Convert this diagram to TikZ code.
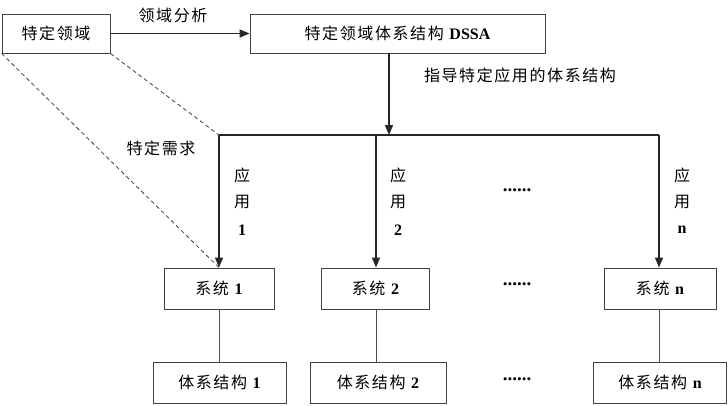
\documentclass[tikz,border=0pt]{standalone}
\usepackage{fontspec}
\setmainfont{Liberation Serif}
\newfontfamily\cjk[LetterSpace=10]{Noto Sans CJK SC}
\usetikzlibrary{arrows.meta}
\begin{document}
\begin{tikzpicture}[x=1pt,y=-1pt,
  box/.style={draw=black!75,line width=0.9pt,fill=white,inner sep=0pt,minimum height=40pt,font=\fontsize{16}{18}\selectfont},
  arr/.style={draw=black!85,line width=1.4pt,-{Triangle[length=10pt,width=8pt]}},
  plain/.style={draw=black!70,line width=0.9pt},
  dashline/.style={draw=black!75,line width=0.8pt,dash pattern=on 4pt off 3pt},
  lab/.style={inner sep=0pt,font=\fontsize{16}{18}\selectfont},
  dots/.style={inner sep=0pt,font=\fontsize{19}{20}\selectfont\bfseries}]
\useasboundingbox (0,0) rectangle (728,405);
% top boxes
\node[box,minimum width=108pt,minimum height=39pt] (dom) at (56,33.5) {\cjk 特定领域};
\node[box,minimum width=295pt,minimum height=39pt] (dssa) at (397.5,33.5) {{\cjk 特定领域体系结构} \textbf{DSSA}};
% system boxes
\node[box,minimum width=110pt,minimum height=41pt] (s1) at (219,288.5) {{\cjk 系统} \textbf{1}};
\node[box,minimum width=108pt,minimum height=41pt] (s2) at (375.5,288.5) {{\cjk 系统} \textbf{2}};
\node[box,minimum width=112pt,minimum height=41pt] (sn) at (660,288.5) {{\cjk 系统} \textbf{n}};
% architecture boxes
\node[box,minimum width=133pt,minimum height=41pt] (a1) at (219.5,382.5) {{\cjk 体系结构} \textbf{1}};
\node[box,minimum width=136pt,minimum height=41pt] (a2) at (378,382.5) {{\cjk 体系结构} \textbf{2}};
\node[box,minimum width=133pt,minimum height=41pt] (an) at (660,382.5) {{\cjk 体系结构} \textbf{n}};
% junction coordinates
\coordinate (L) at (219,135);
\coordinate (M) at (376,135);
\coordinate (J) at (389,135);
\coordinate (R) at (659,135);
% connectors
\draw[arr] (dom.east) -- (dssa.west);
\draw[arr] (J |- dssa.south) -- (J);
\draw[draw=black!85,line width=1.4pt] (L) -- (R);
\draw[arr] (L) -- (L |- s1.north);
\draw[arr] (M) -- (M |- s2.north);
\draw[arr] (R) -- (R |- sn.north);
\draw[plain] (s1.south) -- (s1.south |- a1.north);
\draw[plain] (M |- s2.south) -- (M |- a2.north);
\draw[plain] (R |- sn.south) -- (R |- an.north);
\draw[dashline] (dom.south west) -- (L |- s1.north);
\draw[dashline] (dom.south east) -- (L);
% labels
\node[lab] (l1) at (173,15) {\cjk 领域分析};
\node[lab] (l2) at (520,75) {\cjk 指导特定应用的体系结构};
\node[lab] (l3) at (161,148) {\cjk 特定需求};
\node[lab] (y1a) at (242,175) {\cjk 应};
\node[lab] (y1b) at (242,202) {\cjk 用};
\node[lab] (y1c) at (242,230) {\textbf{1}};
\node[lab] (y2a) at (398,175) {\cjk 应};
\node[lab] (y2b) at (398,202) {\cjk 用};
\node[lab] (y2c) at (398,230) {\textbf{2}};
\node[lab] (yna) at (682,175) {\cjk 应};
\node[lab] (ynb) at (682,202) {\cjk 用};
\node[lab] (ync) at (682,230) {\textbf{n}};
\node[dots] (d1) at (517,190) {......};
\node[dots] (d2) at (517,284) {......};
\node[dots] (d3) at (517,379) {......};
\end{tikzpicture}
\end{document}
